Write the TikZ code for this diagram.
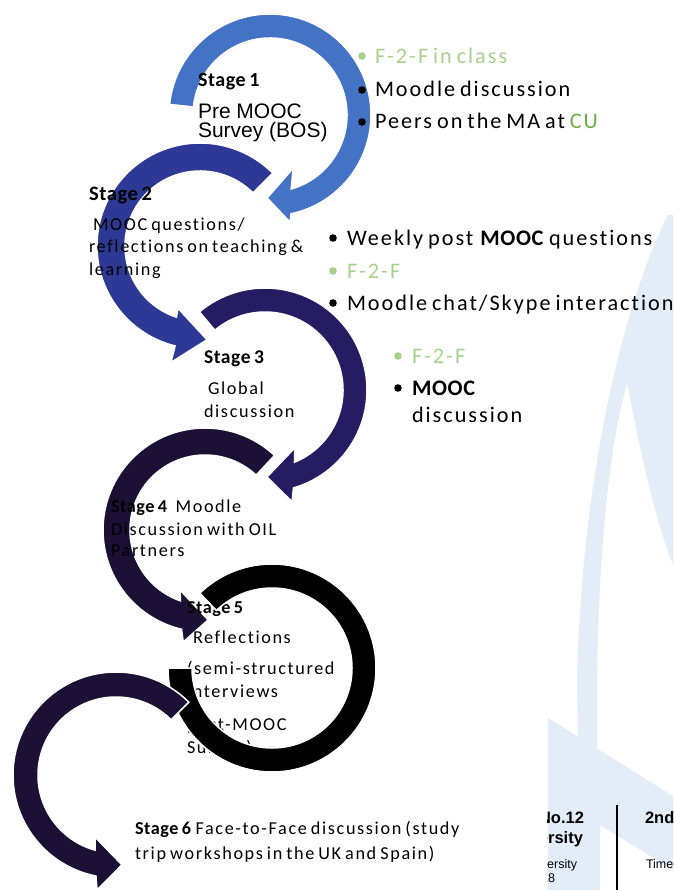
\documentclass[tikz,border=0pt]{standalone}
\usepackage{fontspec}
\setmainfont{Carlito}[LetterSpace=9,WordSpace=0.7,Ligatures=NoCommon,BoldFeatures={LetterSpace=3}]
\newfontfamily\arialf{Liberation Sans}
\definecolor{cA}{HTML}{4472C4}
\definecolor{cB}{HTML}{2D3994}
\definecolor{cC}{HTML}{251C62}
\definecolor{cD}{HTML}{1D1035}
\definecolor{lgreen}{HTML}{A9D18E}
\definecolor{dgreen}{HTML}{70AD47}
\definecolor{wm}{HTML}{E3EDF8}
\tikzset{
  ring/.style={draw=white, line width=1.5pt, line join=miter},
  txt/.style={anchor=base west, inner sep=0pt, outer sep=0pt},
  stg/.style={txt, font=\fontsize{18.2}{22}\selectfont},
  blt/.style={txt, font=\fontsize{22.2}{26}\selectfont},
  bdot/.style={radius=3.8pt}
}
\begin{document}
\begin{tikzpicture}[x=1pt,y=1pt]
\useasboundingbox (0,0) rectangle (673,-890);
\fill[white] (0,0) rectangle (673,-890);
% watermark
\fill[wm] (668,-215) .. controls (625,-300) and (582,-470) .. (577,-680) -- (580,-890) -- (600,-890) -- (597,-740) .. controls (596,-580) and (606,-460) .. (627,-383) .. controls (640,-450) and (655,-520) .. (673,-565) -- (673,-215) -- cycle;
\begin{scope}
  \clip (547,-700) rectangle (673,-890);
  \fill[wm] (548,-718) -- (673,-796) -- (673,-870) -- (600,-825) -- (600,-890) -- (548,-890) -- cycle;
  \node[txt, font=\arialf\bfseries\fontsize{16.5}{18}\selectfont] (bn1) at (539,-823) {No.12};
  \node[txt, font=\arialf\bfseries\fontsize{16.5}{18}\selectfont, anchor=base east] (bn2) at (583,-843) {University};
  \node[txt, font=\arialf\fontsize{12.5}{14}\selectfont, anchor=base east] (bn3) at (577,-868) {University};
  \node[txt, font=\arialf\fontsize{12.5}{14}\selectfont, anchor=base east] (bn4) at (555,-882) {2018};
  \node[txt, font=\arialf\bfseries\fontsize{16.5}{18}\selectfont] (bn5) at (645,-823) {2nd};
  \node[txt, font=\arialf\fontsize{12.5}{14}\selectfont] (bn6) at (646,-868) {Times};
\end{scope}
\draw[line width=2.5pt] (617,-805) -- (617,-890);

% ring 1
\path[ring, fill=cA, shift={(270,-115)}] (174:101) arc[start angle=174, end angle=-78, radius=101pt] -- (-79.4:109) -- (-92:83) -- (-66.5:58) -- (-74:77) arc[start angle=-74, end angle=174, radius=77pt] -- cycle;
\node[txt, font=\fontsize{20}{24}\selectfont\bfseries] (s1a) at (198,-87) {Stage 1};
\node[txt, font=\arialf\fontsize{21}{24}\selectfont] (s1b) at (198,-119) {Pre MOOC};
\node[txt, font=\arialf\fontsize{21}{24}\selectfont] (s1c) at (198,-138) {Survey (BOS)};
\fill[lgreen] (362,-56) circle[bdot];
\node[blt, text=lgreen] (b1a) at (375,-64) {F-2-F in class};
\fill (362,-90) circle[bdot];
\node[blt] (b1b) at (375,-97) {Moodle discussion};
\fill (362,-122) circle[bdot];
\node[blt] (b1c) at (375,-129) {Peers on the MA at \textcolor{dgreen}{CU}};

% ring 2
\path[ring, fill=cB, shift={(200,-246)}] (45:103) arc[start angle=45, end angle=256, radius=103pt] -- (256:120) -- (274.3:94) -- (250.5:66) -- (251.7:75) arc[start angle=251.7, end angle=45, radius=75pt] -- cycle;
\node[txt, font=\fontsize{20.5}{24}\selectfont\bfseries] (s2a) at (89,-201) {Stage 2};
\node[stg] (s2b) at (93,-231) {MOOC questions/};
\node[stg] (s2c) at (89,-253) {reflections on teaching \&};
\node[stg] (s2d) at (89,-276) {learning};
\fill (333,-238) circle[bdot];
\node[blt] (b2a) at (347,-246) {Weekly post \textbf{MOOC} questions};
\fill[lgreen] (333,-271) circle[bdot];
\node[blt, text=lgreen] (b2b) at (347,-278) {F-2-F};
\fill (333,-303) circle[bdot];
\node[blt] (b2c) at (347,-310) {Moodle chat/Skype interaction};

% ring 3
\path[ring, fill=cC, shift={(265,-390)}] (130:102) arc[start angle=130, end angle=-73.8, radius=102pt] -- (-76.4:115) -- (-88.7:87) -- (-62.6:65) -- (-67.8:78) arc[start angle=-67.8, end angle=130, radius=78pt] -- cycle;
\node[txt, font=\fontsize{19.5}{24}\selectfont\bfseries] (s3a) at (204,-363) {Stage 3};
\node[stg] (s3b) at (208,-394) {Global};
\node[stg] (s3c) at (204,-417) {discussion};
\fill[lgreen] (398,-356) circle[bdot];
\node[blt, text=lgreen] (b3a) at (412,-363) {F-2-F};
\fill (398,-388) circle[bdot];
\node[blt] (b3b) at (412,-395) {\textbf{MOOC}};
\node[blt] (b3c) at (412,-422) {discussion};

% ring 4
\path[ring, fill=cD, shift={(205,-530)}] (47:102) arc[start angle=47, end angle=256.7, radius=102pt] -- (259:114) -- (272:90) -- (247.4:65) -- (250.9:75) arc[start angle=250.9, end angle=47, radius=75pt] -- cycle;
\node[stg] (s4a) at (111,-512) {\textbf{Stage 4}\ \ Moodle};
\node[stg] (s4b) at (111,-535) {Discussion with OIL};
\node[stg] (s4c) at (111,-556) {Partners};

% stage 5 text (under ring 5)
\node[stg] (s5a) at (187,-613) {\textbf{Stage 5}};
\node[stg] (s5b) at (193,-643) {Reflections};
\node[stg] (s5c) at (187,-674) {(semi-structured};
\node[stg] (s5d) at (187,-697) {interviews};
\node[stg] (s5e) at (187,-730) {post-MOOC};
\node[stg] (s5f) at (187,-753) {Survey)};

% ring 5
\path[ring, fill=black, shift={(272,-668)}] (134:104) arc[start angle=134, end angle=-180, radius=104pt] -- (-180:80) arc[start angle=-180, end angle=134, radius=80pt] -- cycle;

% ring 6
\path[ring, fill=cD, shift={(116,-775)}] (45:103) arc[start angle=45, end angle=258.8, radius=103pt] -- (260.6:116.6) -- (273.8:90) -- (251.3:65.5) -- (254.4:78) arc[start angle=254.4, end angle=45, radius=78pt] -- cycle;
\node[stg] (s6a) at (135,-834) {\textbf{Stage 6} Face-to-Face discussion (study};
\node[stg] (s6b) at (135,-859) {trip workshops in the UK and Spain)};
\end{tikzpicture}
\end{document}
